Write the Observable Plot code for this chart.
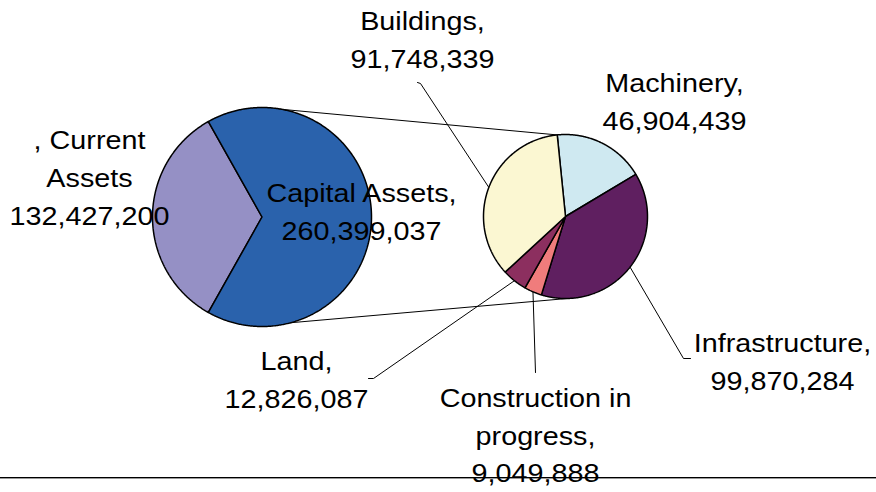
<!DOCTYPE html>
<html>
<head>
<meta charset="utf-8">
<script src="https://cdn.jsdelivr.net/npm/d3@7"></script>
<script src="https://cdn.jsdelivr.net/npm/@observablehq/plot@0.6"></script>
<style>
  html, body { margin: 0; padding: 0; background: #fff; }
  #chart svg { display: block; }
</style>
</head>
<body>
<div id="chart"></div>
<script>
// ---- data ----
const leftNames = ["Current Assets", "Capital Assets"];
const leftValues = [132427200, 260399037];
const leftColors = ["#9590c5", "#2a62ac"];
const leftLabelNames = [", Current\nAssets", "Capital Assets,"];

const rightNames = ["Machinery", "Infrastructure", "Construction in progress", "Land", "Buildings"];
const rightValues = [46904439, 99870284, 9049888, 12826087, 91748339];
const rightColors = ["#cfe9f1", "#5f1f60", "#f07c7c", "#8c2f5f", "#fbf7d2"];
const rightLabelNames = ["Machinery,", "Infrastructure,", "Construction in\nprogress,", "Land,", "Buildings,"];

// ---- layout ----
const L = {cx: 261.5, cy: 216.5, r: 109.5};
const R = {cx: 565, cy: 216, r: 82};
const rightStart = -5.8; // degrees clockwise from 12 o'clock
const fontSize = 25;
const lineHeight = 1.51;
const stretchX = 1.15;
const labelPos = { // [center x, first baseline]
  "Current Assets": [89, 149],
  "Capital Assets": [361, 201.5],
  "Machinery": [674, 91.5],
  "Infrastructure": [782, 351.5],
  "Construction in progress": [535, 406.5],
  "Land": [296, 370],
  "Buildings": [422, 30]
};
const leaderEnds = {
  "Buildings": [[420, 83], [417, 82]],
  "Infrastructure": [[683, 358], [690, 358]],
  "Construction in progress": [[535, 372]],
  "Land": [[373, 378], [368, 378]]
};

const fmt = d3.format(",");
const rad = (d) => d * Math.PI / 180;
const onCircle = (c, deg) => ({x: c.cx + c.r * Math.sin(rad(deg)), y: c.cy - c.r * Math.cos(rad(deg))});

function wedges(names, values, c, startDeg) {
  const total = d3.sum(values);
  let a = startDeg;
  const pts = [], mids = {};
  names.forEach((n, i) => {
    const span = values[i] / total * 360;
    pts.push({name: n, x: c.cx, y: c.cy});
    const steps = Math.ceil(span * 2);
    for (let k = 0; k <= steps; k++) {
      const p = onCircle(c, a + span * k / steps);
      pts.push({name: n, x: p.x, y: p.y});
    }
    pts.push({name: n, x: c.cx, y: c.cy});
    mids[n] = a + span / 2;
    a += span;
  });
  return {pts, mids};
}

const leftSpan0 = leftValues[0] / d3.sum(leftValues) * 360;
const leftPie = wedges(leftNames, leftValues, L, 270 - leftSpan0 / 2);
const rightPie = wedges(rightNames, rightValues, R, rightStart);

// connector lines between the pies
const connectors = [];
[[0, rightStart, "top"], [165, 178.6, "bottom"]].forEach(([aL, aR, id]) => {
  const p1 = onCircle(L, aL), p2 = onCircle(R, aR);
  connectors.push({id, x: p1.x, y: p1.y}, {id, x: p2.x, y: p2.y});
});

// leader lines
const leaders = [];
Object.entries(leaderEnds).forEach(([n, ends]) => {
  const s = onCircle(R, rightPie.mids[n]);
  leaders.push({id: n, x: s.x, y: s.y});
  ends.forEach(([x, y]) => leaders.push({id: n, x, y}));
});

// labels
const labels = [];
leftNames.forEach((n, i) => labels.push({name: n, text: leftLabelNames[i] + "\n" + fmt(leftValues[i])}));
rightNames.forEach((n, i) => labels.push({name: n, text: rightLabelNames[i] + "\n" + fmt(rightValues[i])}));
labels.forEach(d => { d.x = labelPos[d.name][0]; d.y = labelPos[d.name][1] - 0.71 * lineHeight * fontSize; });

const font = "'Liberation Sans', Arial, sans-serif";
const chart = Plot.plot({
  width: 876,
  height: 492,
  margin: 0,
  x: {domain: [0, 876], range: [0, 876], axis: null},
  y: {domain: [0, 492], range: [0, 492], axis: null},
  color: {domain: [...leftNames, ...rightNames], range: [...leftColors, ...rightColors]},
  style: {fontFamily: font, background: "#fff"},
  marks: [
    Plot.line(connectors, {x: "x", y: "y", z: "id", stroke: "#000", strokeWidth: 1}),
    Plot.line(leaders, {x: "x", y: "y", z: "id", stroke: "#000", strokeWidth: 1, strokeLinejoin: "miter"}),
    Plot.line(leftPie.pts, {x: "x", y: "y", z: "name", fill: "name", stroke: "#000", strokeWidth: 1.5, strokeLinejoin: "miter"}),
    Plot.line(rightPie.pts, {x: "x", y: "y", z: "name", fill: "name", stroke: "#000", strokeWidth: 1.5, strokeLinejoin: "miter"}),
    Plot.ruleY([477], {stroke: "#000", strokeWidth: 1}),
    Plot.ruleY([478], {stroke: "#999", strokeWidth: 1}),
    Plot.text(labels, {x: "x", y: "y", text: "text", fontSize, lineHeight, lineAnchor: "top",
      textAnchor: "middle", fill: "#000", fontFamily: font})
  ]
});
// reference text is horizontally wider than the font: stretch each label around its anchor
chart.querySelectorAll('g[aria-label="text"] text').forEach(t => {
  const tr = t.getAttribute("transform");
  if (tr && tr.includes("translate")) {
    t.setAttribute("transform", tr + ` scale(${stretchX},1)`);
  } else {
    const x = +t.getAttribute("x") || 0, y = +t.getAttribute("y") || 0;
    t.removeAttribute("x"); t.removeAttribute("y");
    t.setAttribute("transform", `translate(${x},${y}) scale(${stretchX},1)`);
  }
});
document.getElementById("chart").appendChild(chart);
</script>
</body>
</html>
